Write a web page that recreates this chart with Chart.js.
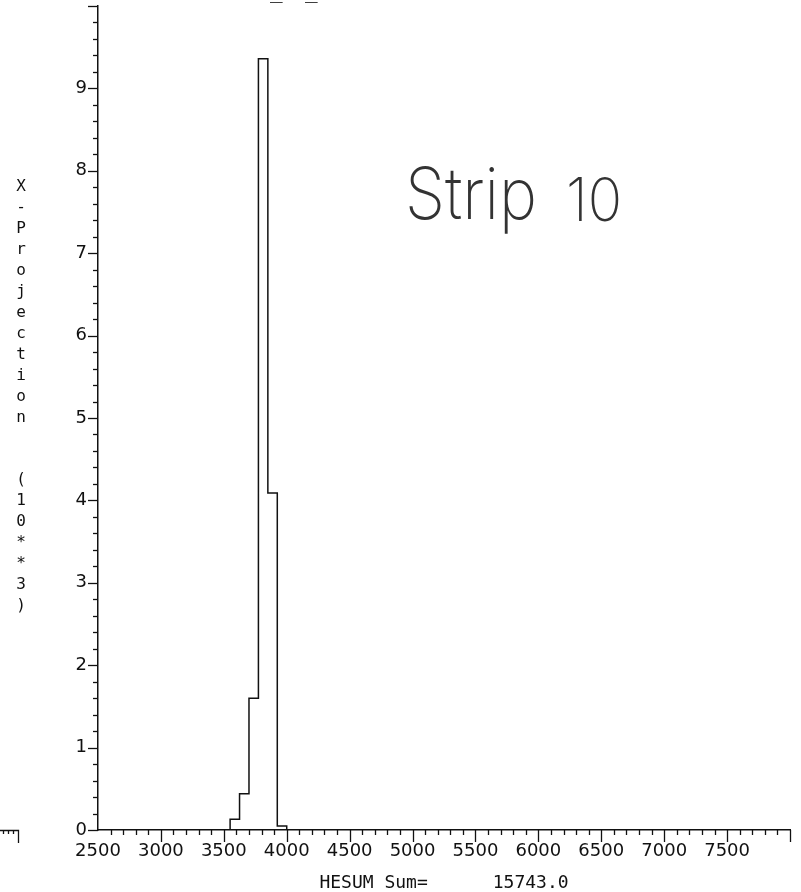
<!DOCTYPE html>
<html>
<head>
<meta charset="utf-8">
<script src="https://cdn.jsdelivr.net/npm/chart.js@4.4.1/dist/chart.umd.min.js"></script>
<style>
  html, body { margin: 0; padding: 0; background: #fff; }
  #wrap { width: 801px; height: 892px; }
</style>
</head>
<body>
<div id="wrap"><canvas id="hist" width="801" height="892"></canvas></div>
<script>
// histogram bins (HESUM), bin width 75
var binEdges = [3550, 3625, 3700, 3775, 3850, 3925, 4000];
// counts in units of 10**3
var counts = [0.13, 0.44, 1.60, 9.36, 4.09, 0.05];

// tick labels
var xTickLabels = [2500, 3000, 3500, 4000, 4500, 5000, 5500, 6000, 6500, 7000, 7500];
var yTickLabels = [0, 1, 2, 3, 4, 5, 6, 7, 8, 9];

var yTitle = 'X-Projection  (10**3)';
var xTitle = 'HESUM Sum=      15743.0';
var note = 'Strip 10';

// step outline from the bins
var points = [{x: binEdges[0], y: 0}];
for (var i = 0; i < counts.length; i++) {
  points.push({x: binEdges[i + 1], y: counts[i]});
}
points.push({x: binEdges[binEdges.length - 1], y: 0});

var ink = '#111';

// minor / major tick marks + loose text
var extras = {
  id: 'extras',
  afterDraw: function(chart) {
    var ctx = chart.ctx;
    var xs = chart.scales.x, ys = chart.scales.y;
    var area = chart.chartArea;
    ctx.save();
    ctx.strokeStyle = ink;
    ctx.lineWidth = 1.3;

    // x ticks every 100, long every 500
    for (var v = 2600; v <= 8000; v += 100) {
      var px = Math.round(xs.getPixelForValue(v)) + 0.5;
      var len = (v % 500 === 0) ? 12 : 5;
      ctx.beginPath();
      ctx.moveTo(px, area.bottom);
      ctx.lineTo(px, area.bottom + len);
      ctx.stroke();
    }
    // y ticks every 0.2, long on integers
    for (var k = 0; k <= 50; k++) {
      var py = Math.round(ys.getPixelForValue(k / 5)) + 0.5;
      var l = (k % 5 === 0) ? 10 : 5;
      ctx.beginPath();
      ctx.moveTo(area.left, py);
      ctx.lineTo(area.left - l, py);
      ctx.stroke();
    }

    // piece of the neighbouring frame, bottom left
    ctx.beginPath();
    ctx.moveTo(0, area.bottom + 0.5);
    ctx.lineTo(18.5, area.bottom + 0.5);
    ctx.lineTo(18.5, area.bottom + 13);
    ctx.moveTo(3.5, area.bottom); ctx.lineTo(3.5, area.bottom + 4);
    ctx.moveTo(8.5, area.bottom); ctx.lineTo(8.5, area.bottom + 4);
    ctx.moveTo(13.5, area.bottom); ctx.lineTo(13.5, area.bottom + 4);
    ctx.stroke();

    // stacked y title
    ctx.fillStyle = ink;
    ctx.font = '16px "DejaVu Sans Mono"';
    ctx.textAlign = 'center';
    ctx.textBaseline = 'middle';
    for (var c = 0; c < yTitle.length; c++) {
      ctx.fillText(yTitle[c], 21, 187 + c * 20.95);
    }

    // clipped title remnants at the top
    ctx.font = '21px "DejaVu Sans Mono"';
    ctx.textBaseline = 'alphabetic';
    ctx.textAlign = 'left';
    ctx.fillText('_', 270, -2);
    ctx.fillText('_', 305, -2);

    // handwritten note, two words
    var words = note.split(' ');
    ctx.fillStyle = '#333';
    ctx.font = '200 72px Inter, "DejaVu Sans"';
    var w1 = ctx.measureText(words[0]).width;
    ctx.save();
    ctx.translate(405, 219);
    ctx.scale(132 / w1, 1);
    ctx.fillText(words[0], 0, 0);
    ctx.restore();
    ctx.font = '200 60px Inter, "DejaVu Sans"';
    var w2 = ctx.measureText(words[1]).width;
    ctx.save();
    ctx.translate(566, 221);
    ctx.scale(56 / w2, 1);
    ctx.fillText(words[1], 0, 0);
    ctx.restore();

    ctx.restore();
  }
};

new Chart(document.getElementById('hist'), {
  type: 'line',
  data: {
    datasets: [{
      data: points,
      stepped: 'after',
      borderColor: ink,
      borderWidth: 1.5,
      pointRadius: 0,
      fill: false,
      tension: 0
    }]
  },
  options: {
    responsive: false,
    animation: false,
    devicePixelRatio: 1,
    layout: { padding: { top: 6, right: 11, left: 0, bottom: 0 } },
    plugins: {
      legend: { display: false },
      tooltip: { enabled: false }
    },
    scales: {
      x: {
        type: 'linear',
        min: 2500,
        max: 8000,
        afterBuildTicks: function(s) {
          s.ticks = xTickLabels.map(function(v) { return {value: v}; });
        },
        afterFit: function(s) { s.height = 62; s.paddingLeft = 0; s.paddingRight = 0; },
        grid: { drawOnChartArea: false, drawTicks: false },
        border: { display: true, color: ink, width: 1.5 },
        ticks: {
          autoSkip: false,
          maxRotation: 0,
          padding: 11,
          color: ink,
          font: { family: 'DejaVu Sans', size: 18 },
          callback: function(v) { return String(v); }
        },
        title: {
          display: true,
          text: xTitle,
          color: ink,
          font: { family: 'DejaVu Sans Mono', size: 18 },
          padding: { top: 0, bottom: -2 }
        }
      },
      y: {
        type: 'linear',
        min: 0,
        max: 10,
        afterBuildTicks: function(s) {
          s.ticks = yTickLabels.map(function(v) { return {value: v}; });
        },
        afterFit: function(s) { s.width = 98; s.paddingTop = 0; s.paddingBottom = 0; },
        grid: { drawOnChartArea: false, drawTicks: false },
        border: { display: true, color: ink, width: 1.5 },
        ticks: {
          padding: 11,
          color: ink,
          font: { family: 'DejaVu Sans', size: 18 },
          callback: function(v) { return String(v); }
        }
      }
    }
  },
  plugins: [extras]
});
</script>
</body>
</html>
